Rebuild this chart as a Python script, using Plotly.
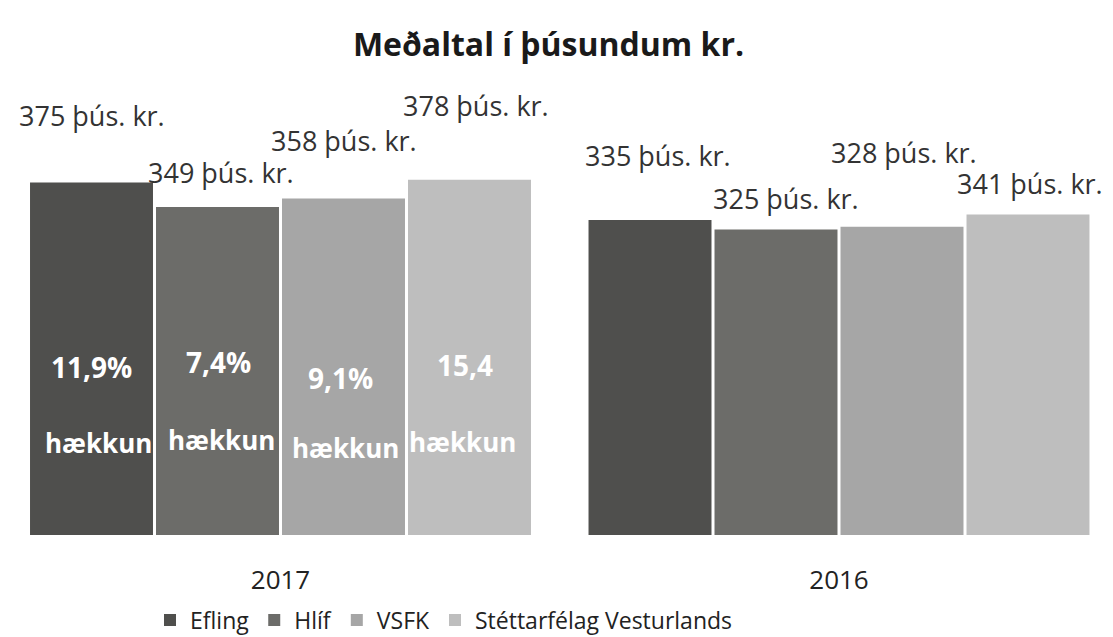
import plotly.graph_objects as go

categories = ["2017", "2016"]
series_names = ["Efling", "Hlíf", "VSFK", "Stéttarfélag Vesturlands"]
values = {
    "Efling": [375, 335],
    "Hlíf": [349, 325],
    "VSFK": [358, 328],
    "Stéttarfélag Vesturlands": [378, 341],
}
increase_labels = ["11,9%", "7,4%", "9,1%", "15,4"]
increase_word = "hækkun"
colors = ["#4f4f4d", "#6c6c69", "#a6a6a6", "#bebebe"]

# value-label styling offsets (pixels): [series][category] -> (xshift, yshift above bar top)
label_offsets = [
    [(0, 67), (8, 65)],
    [(3, 34), (10, 31)],
    [(0, 58), (2, 74)],
    [(6, 74), (2, 31)],
]

FONT = "Open Sans"
PAGE_OFF = 8            # browser body margin
W, H = 1113 - PAGE_OFF, 637 - PAGE_OFF
bargap = 0.0976
n = len(series_names)
slot = (1 - bargap) / n

base_px = 535 - PAGE_OFF
px_per_unit = 0.94
ymax = 400
plot_h = ymax * px_per_unit
top_m = base_px - plot_h
bot_m = H - base_px
cat_px = 558.5
x0 = -(280.5 - PAGE_OFF) / cat_px
x1 = x0 + W / cat_px


def paper_y(screen_y):
    return (base_px - (screen_y - PAGE_OFF)) / plot_h


fig = go.Figure()
for i, name in enumerate(series_names):
    fig.add_trace(go.Bar(
        name=name, x=list(range(len(categories))), y=values[name],
        marker=dict(color=colors[i], line=dict(width=0)),
    ))

annotations = []
for i, name in enumerate(series_names):
    for c in range(len(categories)):
        xpos = c + (i - (n - 1) / 2) * slot
        xs, ys = label_offsets[i][c]
        annotations.append(dict(
            x=xpos, y=values[name][c], xref="x", yref="y",
            text=f"{values[name][c]} þús. kr.", showarrow=False,
            xshift=xs, yshift=ys, yanchor="middle",
            font=dict(family=FONT, size=27, color="#333333"),
        ))

# increase labels inside the 2017 bars
inner_pct_y = [367, 362, 378, 365]
inner_word_y = [443, 440, 448, 442]
inner_pct_dx = [0, 1, -3, -5]
inner_word_dx = [7, 4, 2, -7]
for i in range(n):
    xpos = 0 + (i - (n - 1) / 2) * slot
    annotations.append(dict(
        x=xpos, y=paper_y(inner_pct_y[i]), xref="x", yref="paper",
        text=f"<b>{increase_labels[i]}</b>", showarrow=False, xshift=inner_pct_dx[i],
        yanchor="middle", font=dict(family=FONT, size=28, color="white"),
    ))
    annotations.append(dict(
        x=xpos, y=paper_y(inner_word_y[i]), xref="x", yref="paper",
        text=f"<b>{increase_word}</b>", showarrow=False, xshift=inner_word_dx[i],
        yanchor="middle", font=dict(family=FONT, size=26, color="white"),
    ))

fig.update_layout(
    width=W, height=H,
    margin=dict(l=0, r=0, t=top_m, b=bot_m, autoexpand=False),
    paper_bgcolor="white", plot_bgcolor="white",
    barmode="group", bargap=bargap, bargroupgap=0.024,
    title=dict(text="<b>Meðaltal í þúsundum kr.</b>", x=(548.5 - PAGE_OFF) / W, xanchor="center",
               y=1 - (45 - PAGE_OFF) / H, yanchor="middle", yref="container",
               font=dict(family=FONT, size=32, color="#1a1a1a")),
    xaxis=dict(tickmode="array", tickvals=list(range(len(categories))), ticktext=categories,
               range=[x0, x1], showgrid=False, zeroline=False, showline=False,
               ticks="outside", ticklen=22, tickcolor="rgba(0,0,0,0)",
               tickfont=dict(family=FONT, size=26, color="#222222")),
    yaxis=dict(range=[0, ymax], visible=False),
    legend=dict(orientation="h", x=(150 - PAGE_OFF) / W, xanchor="left", xref="container",
                y=1 - (620 - PAGE_OFF) / H, yanchor="middle", yref="container",
                font=dict(family=FONT, size=23, color="#222222"),
                itemwidth=30, tracegroupgap=0),
    annotations=annotations,
    showlegend=True,
)

fig.write_html("out.html")
